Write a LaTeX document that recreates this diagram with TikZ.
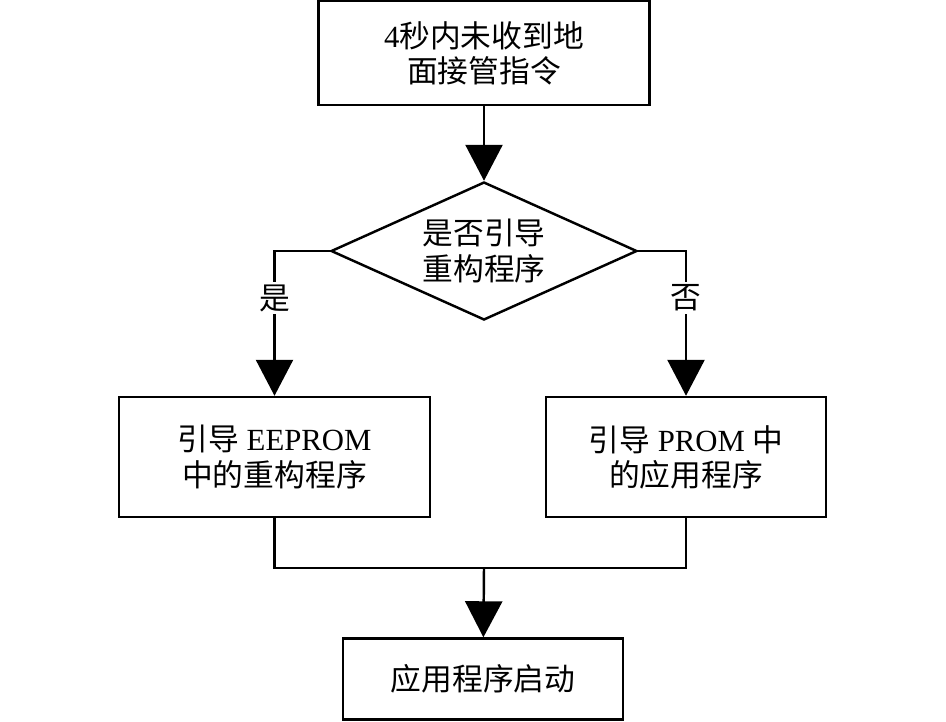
\documentclass[tikz,border=0pt]{standalone}
\usepackage{fontspec}
\setmainfont{Liberation Serif}
\newfontfamily\cjk{Noto Sans CJK SC}
\usetikzlibrary{shapes.geometric,arrows.meta}

\begin{document}
\begin{tikzpicture}[
  box/.style={draw, black, line width=1.4pt, align=center, inner sep=0pt},
  flow/.style={black, line width=1.4pt, -{Triangle[length=0.72cm,width=0.74cm]}},
  wire/.style={black, line width=1.4pt},
  tag/.style={fill=white, inner sep=1.5pt},
  every node/.style={font=\fontsize{17.5}{20}\selectfont}
]

\useasboundingbox (0,0) rectangle (18.92,-14.42);

 % boxes
 \node [box, minimum width=6.62cm, minimum height=2.08cm] (start) at (9.68,-1.06)
   {4{\cjk 秒内未收到地}\\{\cjk 面接管指令}};
 \node [box, shape=diamond, aspect=2.2, minimum width=6.12cm, minimum height=2.76cm] (choice) at (9.68,-5.02)
   {{\cjk 是否引导}\\{\cjk 重构程序}};
 \node [box, minimum width=6.22cm, minimum height=2.4cm] (left) at (5.49,-9.14)
   {{\cjk 引导} EEPROM\\{\cjk 中的重构程序}};
 \node [box, minimum width=5.6cm, minimum height=2.4cm] (right) at (13.72,-9.14)
   {{\cjk 引导} PROM {\cjk 中}\\{\cjk 的应用程序}};
 \node [box, minimum width=5.6cm, minimum height=1.62cm] (finish) at (9.66,-13.58)
   {{\cjk 应用程序启动}};

 \coordinate (merge) at (9.68,-11.36);

 % connectors
 \draw [flow] (start) -- (choice);
 \draw [flow] (choice.west) -| (left);
 \draw [flow] (choice.east) -| (right);
 \draw [wire] (left.south) |- (merge) -| (right.south);
 \draw [flow] (merge) -- (finish);

 \node [tag] (yes) at (5.49,-5.96) {\cjk 是};
 \node [tag] (no) at (13.72,-5.96) {\cjk 否};

\end{tikzpicture}
\end{document}
